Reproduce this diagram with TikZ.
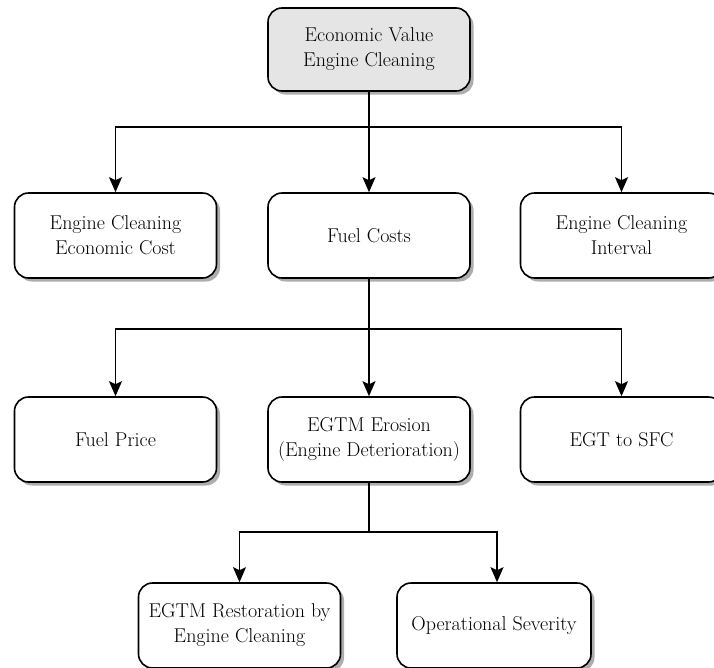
\documentclass[tikz,border=0pt]{standalone}
\usepackage{fontspec}
\usetikzlibrary{arrows.meta,shadows}
\begin{document}
\begin{tikzpicture}[x=1pt,y=-1pt,
  box/.style={draw=black, line width=1.6pt, rounded corners=14pt, fill=white,
    minimum width=202pt, minimum height=85pt, align=center, inner sep=0pt,
    font=\fontsize{20}{25}\selectfont,
    drop shadow={shadow xshift=3.5pt, shadow yshift=-3.5pt, fill=black!40, opacity=0.8}},
  rootbox/.style={box, fill=black!10},
  link/.style={line width=1.4pt},
  arrowlink/.style={link, -{Stealth[length=15pt, width=13pt, inset=3pt]}}]
\useasboundingbox (0,0) rectangle (714,667);

% top level
\node[rootbox, minimum height=83pt] (root) at (369,49.5) {Economic Value\\Engine Cleaning};

% second level
\node[box] (cost) at (115.5,235.5) {Engine Cleaning\\Economic Cost};
\node[box] (fuel) at (369,235.5) {Fuel Costs};
\node[box] (interval) at (621.5,235.5) {Engine Cleaning\\Interval};

% third level
\node[box] (price) at (115.5,439.5) {Fuel Price};
\node[box] (egtm) at (369,439.5) {EGTM Erosion\\(Engine Deterioration)};
\node[box] (sfc) at (621.5,439.5) {EGT to SFC};

% fourth level
\node[box] (restore) at (239.5,625.5) {EGTM Restoration by\\Engine Cleaning};
\node[box, minimum width=194pt] (severity) at (494,625.5) {Operational Severity};

% junctions
\coordinate (j1) at (369,127);
\coordinate (j2) at (369,329);
\coordinate (j3) at (369,532);

% connectors
\draw[link] (root.south) -- (j1);
\draw[arrowlink] (j1) -| (cost.north);
\draw[arrowlink] (j1) -- (fuel.north);
\draw[arrowlink] (j1) -| (interval.north);

\draw[link] (fuel.south) -- (j2);
\draw[arrowlink] (j2) -| (price.north);
\draw[arrowlink] (j2) -- (egtm.north);
\draw[arrowlink] (j2) -| (sfc.north);

\draw[link] (egtm.south) -- (j3);
\draw[arrowlink] (j3) -| (restore.north);
\draw[arrowlink] (j3) -| ([xshift=3pt]severity.north);
\end{tikzpicture}
\end{document}
